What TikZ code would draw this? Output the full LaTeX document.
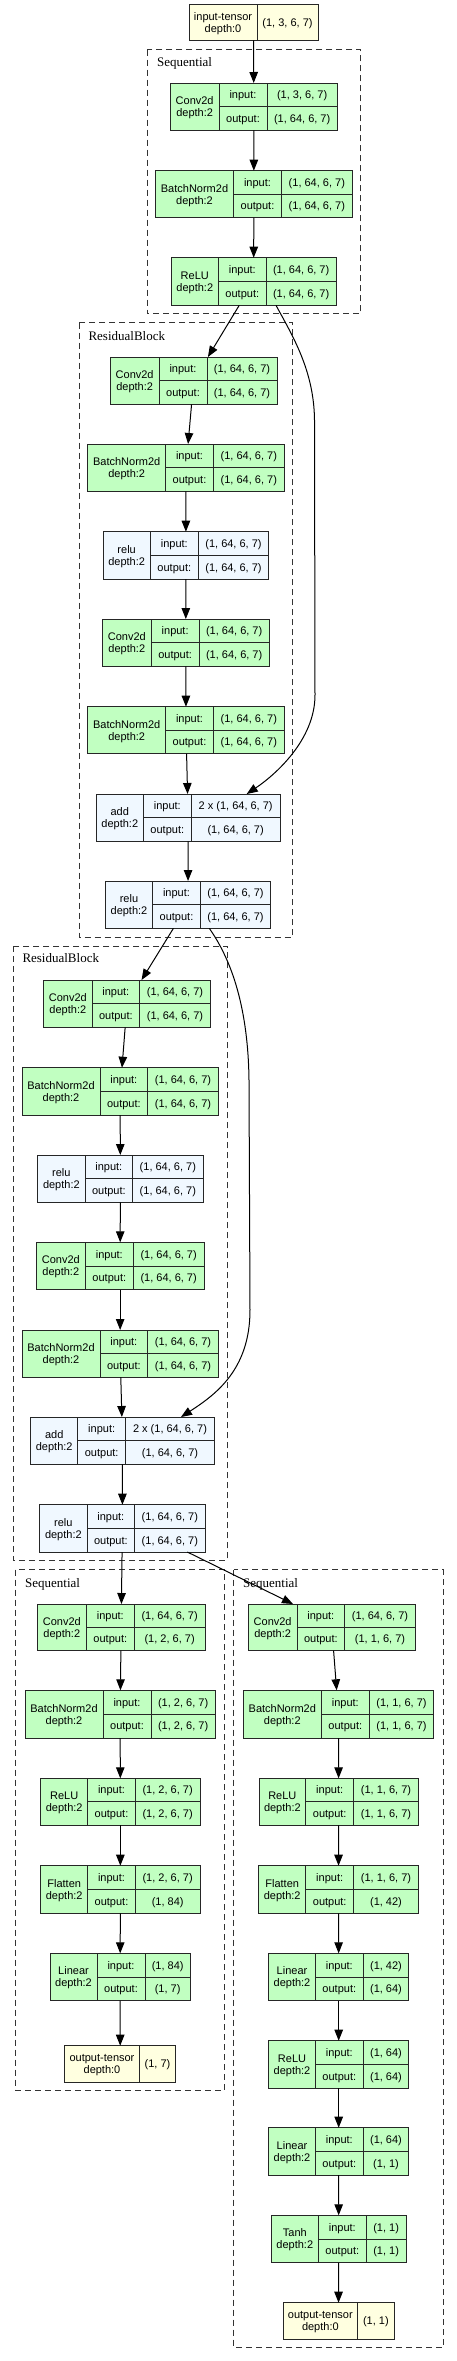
\documentclass[tikz,border=0pt]{standalone}
\usepackage{fontspec}
\setmainfont{Liberation Serif}
\newfontfamily\labfont{Liberation Sans}
\usetikzlibrary{arrows.meta}
\definecolor{lgreen}{HTML}{C1FFC1}
\definecolor{lblue}{HTML}{F0F8FF}
\definecolor{lyel}{HTML}{FFFFE0}
\tikzset{
 recbox/.style={draw=black!85, line width=1pt, inner sep=0pt, outer sep=0pt},
 divl/.style={draw=black!85, line width=1pt},
 txtl/.style={font=\labfont\fontsize{11}{12}\selectfont, inner sep=0pt, anchor=base},
 clusbox/.style={draw=black!80, line width=1pt, dash pattern=on 6pt off 4pt},
 cluslab/.style={font=\fontsize{13}{14}\selectfont, inner sep=0pt, anchor=base west},
 conn/.style={draw=black, line width=1pt, -{Triangle[length=11pt,width=8.5pt]}},
}
\def\layparse#1,#2,#3,#4;#5,#6;{\def\xa{#1}\def\xb{#2}\def\xc{#3}\def\xd{#4}\def\ya{#5}\def\yb{#6}}
\def\tenparse#1,#2,#3;#4,#5;{\def\xa{#1}\def\xb{#2}\def\xd{#3}\def\ya{#4}\def\yb{#5}}
% name, xs, ys, fill, title, in, out
\newcommand\lay[7]{%
  \layparse#2;#3;%
  \pgfmathsetmacro\ww{\xd-\xa}\pgfmathsetmacro\hh{\yb-\ya}%
  \pgfmathsetmacro\cx{(\xa+\xd)/2}\pgfmathsetmacro\cy{(\ya+\yb)/2}%
  \pgfmathsetmacro\qa{(\ya+\cy)/2+3.9}\pgfmathsetmacro\qb{(\cy+\yb)/2+3.9}%
  \pgfmathsetmacro\ta{\cy-2.1}\pgfmathsetmacro\tb{\cy+9.9}%
  \pgfmathsetmacro\ma{(\xa+\xb)/2}\pgfmathsetmacro\mb{(\xb+\xc)/2}\pgfmathsetmacro\mc{(\xc+\xd)/2}%
  \node[recbox,fill=#4,minimum width=\ww pt,minimum height=\hh pt] (#1) at (\cx,\cy) {};
  \draw[divl] (\xb,\ya) -- (\xb,\yb) (\xc,\ya) -- (\xc,\yb) (\xb,\cy) -- (\xd,\cy);
  \node[txtl] (#1-n) at (\ma,\ta) {#5};
  \node[txtl] (#1-d) at (\ma,\tb) {depth:2};
  \node[txtl] (#1-i) at (\mb,\qa) {input:};
  \node[txtl] (#1-o) at (\mb,\qb) {output:};
  \node[txtl] (#1-iv) at (\mc,\qa) {#6};
  \node[txtl] (#1-ov) at (\mc,\qb) {#7};
}
% name, xs, ys, title, value
\newcommand\tens[5]{%
  \tenparse#2;#3;%
  \pgfmathsetmacro\ww{\xd-\xa}\pgfmathsetmacro\hh{\yb-\ya}%
  \pgfmathsetmacro\cx{(\xa+\xd)/2}\pgfmathsetmacro\cy{(\ya+\yb)/2}%
  \pgfmathsetmacro\ta{\cy-2.1}\pgfmathsetmacro\tb{\cy+9.9}\pgfmathsetmacro\tv{\cy+3.9}%
  \pgfmathsetmacro\ma{(\xa+\xb)/2}\pgfmathsetmacro\mc{(\xb+\xd)/2}%
  \node[recbox,fill=lyel,minimum width=\ww pt,minimum height=\hh pt] (#1) at (\cx,\cy) {};
  \draw[divl] (\xb,\ya) -- (\xb,\yb);
  \node[txtl] (#1-n) at (\ma,\ta) {#4};
  \node[txtl] (#1-d) at (\ma,\tb) {depth:0};
  \node[txtl] (#1-v) at (\mc,\tv) {#5};
}
\begin{document}
\begin{tikzpicture}[x=1pt,y=-1pt]
\fill[white] (0,0) rectangle (457,2361);
\useasboundingbox (0,0) rectangle (457,2361);
% clusters
\draw[clusbox] (147,49.7) rectangle (360.7,313.7);
\node[cluslab] (lab1) at (157,66) {Sequential};
\draw[clusbox] (79,322.7) rectangle (292.7,937);
\node[cluslab] (lab2) at (88.3,340) {ResidualBlock};
\draw[clusbox] (13.3,946) rectangle (227,1560.3);
\node[cluslab] (lab3) at (22.3,962.7) {ResidualBlock};
\draw[clusbox] (15.7,1569.7) rectangle (224.7,2090.3);
\node[cluslab] (lab4) at (25,1587) {Sequential};
\draw[clusbox] (233.7,1569.7) rectangle (443.3,2347.3);
\node[cluslab] (lab5) at (243,1587) {Sequential};
% nodes
\tens{in0}{189,257,318}{4.3,40.3}{input-tensor}{(1, 3, 6, 7)}
\lay{s1c}{170.3,219,267,337.3}{83,130.3}{lgreen}{Conv2d}{(1, 3, 6, 7)}{(1, 64, 6, 7)}
\lay{s1b}{155.7,233.3,281.7,352}{170.7,217.7}{lgreen}{BatchNorm2d}{(1, 64, 6, 7)}{(1, 64, 6, 7)}
\lay{s1r}{171.3,218.3,266.3,336}{257.7,305.3}{lgreen}{ReLU}{(1, 64, 6, 7)}{(1, 64, 6, 7)}
\lay{r1c1}{110.3,159,207,277}{357,404.3}{lgreen}{Conv2d}{(1, 64, 6, 7)}{(1, 64, 6, 7)}
\lay{r1b1}{87.7,165.7,213.3,284.3}{444,491.3}{lgreen}{BatchNorm2d}{(1, 64, 6, 7)}{(1, 64, 6, 7)}
\lay{r1r1}{103,150.3,198.3,268.7}{531.7,579}{lblue}{relu}{(1, 64, 6, 7)}{(1, 64, 6, 7)}
\lay{r1c2}{102.3,151.3,199,269.3}{619,666.3}{lgreen}{Conv2d}{(1, 64, 6, 7)}{(1, 64, 6, 7)}
\lay{r1b2}{87.7,165.7,213.3,284.3}{706.7,753.7}{lgreen}{BatchNorm2d}{(1, 64, 6, 7)}{(1, 64, 6, 7)}
\lay{r1a}{96.3,143.3,191.3,280}{794,841.3}{lblue}{add}{2 x (1, 64, 6, 7)}{(1, 64, 6, 7)}
\lay{r1r2}{105.3,152.7,200.3,270.7}{881,928.3}{lblue}{relu}{(1, 64, 6, 7)}{(1, 64, 6, 7)}
\lay{r2c1}{43.7,92,139.7,210.3}{980,1027.3}{lgreen}{Conv2d}{(1, 64, 6, 7)}{(1, 64, 6, 7)}
\lay{r2b1}{22,100,147.7,218.3}{1067.7,1115}{lgreen}{BatchNorm2d}{(1, 64, 6, 7)}{(1, 64, 6, 7)}
\lay{r2r1}{37.7,85,132.7,203}{1155,1202.3}{lblue}{relu}{(1, 64, 6, 7)}{(1, 64, 6, 7)}
\lay{r2c2}{36.3,85.3,133.3,204}{1242.3,1289.7}{lgreen}{Conv2d}{(1, 64, 6, 7)}{(1, 64, 6, 7)}
\lay{r2b2}{22,100,147.7,218.3}{1330,1377}{lgreen}{BatchNorm2d}{(1, 64, 6, 7)}{(1, 64, 6, 7)}
\lay{r2a}{30.7,77.7,125.7,214.3}{1417,1464.3}{lblue}{add}{2 x (1, 64, 6, 7)}{(1, 64, 6, 7)}
\lay{r2r2}{39.7,87,134.7,205}{1504.7,1552}{lblue}{relu}{(1, 64, 6, 7)}{(1, 64, 6, 7)}
% left head
\lay{aC}{37.3,86.3,134.3,205}{1604,1650.7}{lgreen}{Conv2d}{(1, 64, 6, 7)}{(1, 2, 6, 7)}
\lay{aB}{25,103,151,215.3}{1690.3,1738}{lgreen}{BatchNorm2d}{(1, 2, 6, 7)}{(1, 2, 6, 7)}
\lay{aR}{40.7,87.7,135.3,200}{1778.3,1825.3}{lgreen}{ReLU}{(1, 2, 6, 7)}{(1, 2, 6, 7)}
\lay{aF}{40.7,87.7,135.3,200}{1865.7,1913.3}{lgreen}{Flatten}{(1, 2, 6, 7)}{(1, 84)}
\lay{aL}{50,97,145,190.3}{1953.3,2000.7}{lgreen}{Linear}{(1, 84)}{(1, 7)}
\tens{aO}{64.7,139.3,175.7}{2045.7,2082}{output-tensor}{(1, 7)}
% right head
\lay{bC}{248.3,297,344.7,415.3}{1604,1650.7}{lgreen}{Conv2d}{(1, 64, 6, 7)}{(1, 1, 6, 7)}
\lay{bB}{243.3,321.3,369.3,433.7}{1690.3,1738}{lgreen}{BatchNorm2d}{(1, 1, 6, 7)}{(1, 1, 6, 7)}
\lay{bR}{259,305.7,353.7,418.3}{1778.3,1825.3}{lgreen}{ReLU}{(1, 1, 6, 7)}{(1, 1, 6, 7)}
\lay{bF}{258.7,305.7,353.7,418.3}{1865.7,1913.3}{lgreen}{Flatten}{(1, 1, 6, 7)}{(1, 42)}
\lay{bL1}{268.7,315.3,363.3,408.7}{1953.3,2000.7}{lgreen}{Linear}{(1, 42)}{(1, 64)}
\lay{bR2}{268.7,315.3,363.3,408.7}{2040.7,2088}{lgreen}{ReLU}{(1, 64)}{(1, 64)}
\lay{bL2}{268.7,315.3,363.3,408.7}{2127.7,2175}{lgreen}{Linear}{(1, 64)}{(1, 1)}
\lay{bT}{271.3,318.3,366.3,406}{2215.3,2262.7}{lgreen}{Tanh}{(1, 1)}{(1, 1)}
\tens{bO}{283,357.7,394}{2302.7,2339}{output-tensor}{(1, 1)}
% straight edges
\foreach \a/\b in {in0/s1c,s1c/s1b,s1b/s1r,s1r/r1c1,r1c1/r1b1,r1b1/r1r1,r1r1/r1c2,r1c2/r1b2,r1b2/r1a,r1a/r1r2,
  r1r2/r2c1,r2c1/r2b1,r2b1/r2r1,r2r1/r2c2,r2c2/r2b2,r2b2/r2a,r2a/r2r2,r2r2/aC,
  aC/aB,aB/aR,aR/aF,aF/aL,aL/aO,bC/bB,bB/bR,bR/bF,bF/bL1,bL1/bR2,bR2/bL2,bL2/bT,bT/bO}
  \draw[conn] (\a) -- (\b);
\draw[conn] ([xshift=65pt]r2r2.south) -- ([xshift=-38.8pt]bC.north);
% skip connections
\draw[conn] ([xshift=22.35pt]s1r.south) .. controls (292,335) and (314,370) .. (314.5,420)
  -- (315,695) .. controls (315,740) and (275,775) .. ([xshift=58.55pt]r1a.north);
\draw[conn] ([xshift=21.3pt]r1r2.south) .. controls (228,955) and (248,1000) .. (249,1080)
  -- (250,1310) .. controls (250,1370) and (215,1395) .. ([xshift=58.5pt]r2a.north);
\end{tikzpicture}
\end{document}
